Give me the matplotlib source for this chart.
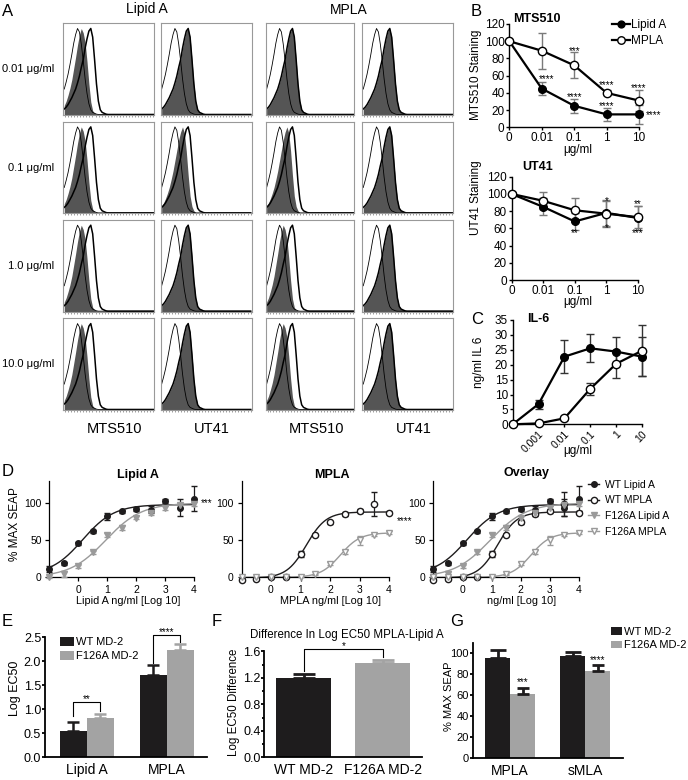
import numpy as np
import matplotlib
matplotlib.use('Agg')
import matplotlib.pyplot as plt

plt.rcParams['font.family'] = ['Liberation Sans', 'DejaVu Sans']

W, H = 688, 780

# ---------------- data ----------------
# A: flow histograms (normalised counts per bin, first bins only, rest ~0)
HIST_ISO = [0.30, 0.38, 0.47, 0.58, 0.70, 0.83, 0.93, 1.00, 0.96, 0.82, 0.63, 0.42,
            0.25, 0.13, 0.06, 0.03, 0.02, 0.01]
HIST_HIGH = [0.07, 0.09, 0.12, 0.16, 0.20, 0.25, 0.30, 0.37, 0.45, 0.55, 0.64, 0.77,
             0.88, 0.97, 1.00, 0.90, 0.64, 0.36, 0.16, 0.06, 0.03, 0.02, 0.01]
HIST_MID = [0.09, 0.12, 0.17, 0.23, 0.30, 0.39, 0.49, 0.61, 0.73, 0.85, 0.94, 1.00,
            0.93, 0.72, 0.44, 0.20, 0.08, 0.03, 0.01]
HIST_LOW = [0.11, 0.16, 0.23, 0.31, 0.41, 0.54, 0.67, 0.81, 0.93, 1.00, 0.95, 0.84,
            0.62, 0.36, 0.15, 0.05, 0.02, 0.01]
DOSE_ROWS = ['0.01 μg/ml', '0.1 μg/ml', '1.0 μg/ml', '10.0 μg/ml']
HIST_COLS = ['MTS510', 'UT41', 'MTS510', 'UT41']
# which stained histogram is filled, per row (dose) and column
FILL_SHAPE = [['low', 'high', 'high', 'high'],
              ['low', 'mid', 'mid', 'high'],
              ['low', 'high', 'low', 'high'],
              ['low', 'high', 'low', 'high']]

# B
DOSE_LABELS = ['0', '0.01', '0.1', '1', '10']
MTS_LIPA = [100, 45, 25, 15, 15]
MTS_LIPA_ERR = [0, 8, 8, 8, 11]
MTS_MPLA = [100, 89, 72, 40, 31]
MTS_MPLA_ERR = [0, 21, 15, 3, 12]
MTS_STARS = [(1.15, 56, '****'), (2, 35, '****'), (3, 25, '****'), (4.45, 14, '****'),
             (2, 88, '***'), (3, 49, '****'), (4, 46, '****')]
UT_LIPA = [100, 85, 68, 78, 72]
UT_LIPA_ERR = [0, 10, 10, 15, 14]
UT_MPLA = [100, 92, 81, 77, 73]
UT_MPLA_ERR = [0, 10, 14, 15, 13]
UT_STARS = [(2, 54, '**'), (3, 92, '*'), (3, 60, '*'), (4, 88, '**'), (4, 54, '***')]

# C
IL6_LABELS = ['0.001', '0.01', '0.1', '1', '10']
IL6_LIPA = [0, 6.8, 22.7, 25.5, 24.4, 22.7]
IL6_LIPA_ERR = [0, 1.5, 5.5, 4.7, 4.9, 6.5]
IL6_MPLA = [0, 0.3, 2.0, 11.9, 20.3, 24.7]
IL6_MPLA_ERR = [0, 0.3, 0.5, 2.1, 4.6, 8.5]

# D
LOGX = [-1, -0.5, 0, 0.5, 1, 1.5, 2, 2.5, 3, 3.5, 4]
WT_LIPA = [11, 19, 46, 62, 82, 89, 92, 91, 103, 94, 106]
WT_LIPA_ERR = [4, 2, 2, 2, 5, 2, 3, 5, 3, 12, 17]
F1_LIPA = [0, 5, 15, 34, 57, 67, 80, 86, 93, 97, 99]
F1_LIPA_ERR = [1, 4, 2, 2, 3, 3, 2, 2, 3, 3, 3]
WT_MPLA = [-3, -2, 1, 1, 32, 57, 74, 85, 89, 99, 87]
WT_MPLA_ERR = [2, 1, 1, 1, 4, 2, 2, 3, 3, 16, 2]
F1_MPLA = [0, 0, 0, 0, 1, 4, 18, 34, 50, 57, 60]
F1_MPLA_ERR = [1, 1, 1, 1, 1, 1, 2, 3, 6, 2, 2]
# 4-parameter fits: bottom, top, logEC50, hill
FIT_WT_LIPA = (3, 98, 0.15, 0.8)
FIT_F1_LIPA = (0, 100, 0.95, 0.7)
FIT_WT_MPLA = (-1, 88, 1.2, 1.3)
FIT_F1_MPLA = (0, 60, 2.35, 1.3)

# E
E_GROUPS = ['Lipid A', 'MPLA']
E_WT = [0.55, 1.70]
E_WT_ERR = [0.18, 0.22]
E_F1 = [0.82, 2.22]
E_F1_ERR = [0.08, 0.13]

# F
F_GROUPS = ['WT MD-2', 'F126A MD-2']
F_VALS = [1.20, 1.42]
F_ERR = [0.05, 0.05]

# G
G_GROUPS = ['MPLA', 'sMLA']
G_WT = [96, 97]
G_WT_ERR = [7, 4]
G_F1 = [61, 83]
G_F1_ERR = [6, 6]

BLACK = '#1e1c1d'
GREY = '#a3a3a3'
LGREY = '#9a9a9a'

fig = plt.figure(figsize=(W / 100, H / 100), dpi=100)


def pax(x0, y0, x1, y1):
    return fig.add_axes([x0 / W, 1 - y1 / H, (x1 - x0) / W, (y1 - y0) / H])


def ftext(x, y, s, **kw):
    kw.setdefault('ha', 'center')
    kw.setdefault('va', 'center')
    fig.text(x / W, 1 - y / H, s, **kw)


def open_axes(ax, lw=1.0, fs=8, length=2.5, pad=1.0):
    for s in ['top', 'right']:
        ax.spines[s].set_visible(False)
    for s in ['left', 'bottom']:
        ax.spines[s].set_linewidth(lw)
    ax.tick_params(direction='out', length=length, width=lw, pad=pad, labelsize=fs)


# ---------------- A ----------------
shapes = {'low': HIST_LOW, 'mid': HIST_MID, 'high': HIST_HIGH}
NB = 48
col_x = [(63.3, 154.3), (160.7, 251.7), (265.7, 354.3), (362.3, 453.3)]
row_y = [(23.3, 115), (121.7, 213.4), (220, 311.7), (318.4, 410)]


def padded(v):
    out = np.full(NB, 0.006)
    out[:len(v)] = v
    return out


bins = np.arange(NB) + 0.5
for r in range(4):
    for c in range(4):
        ax = pax(col_x[c][0], row_y[r][0], col_x[c][1], row_y[r][1])
        fill = padded(shapes[FILL_SHAPE[r][c]])
        ax.fill_between(bins, 0, fill, color='#555555', lw=0)
        ax.plot(bins, padded(HIST_HIGH), color='black', lw=1.1)
        ax.plot(bins, padded(HIST_ISO), color='black', lw=0.6)
        ax.set_xlim(0, NB)
        ax.set_ylim(0, 1.06)
        ax.set_yticks([])
        ax.set_xticks(np.arange(1, NB, 1.6))
        ax.set_xticklabels([])
        ax.tick_params(axis='x', length=1.5, width=0.5, color='#777777')
        for s in ax.spines.values():
            s.set_color('#999999')
            s.set_linewidth(0.8)
    ftext(54, (row_y[r][0] + row_y[r][1]) / 2, DOSE_ROWS[r], ha='right', fontsize=8)

ftext(147, 9.5, 'Lipid A', fontsize=10)
ftext(349, 9.5, 'MPLA', fontsize=10)
for c, name in enumerate(HIST_COLS):
    ftext((col_x[c][0] + col_x[c][1]) / 2 + 6, 429, name, fontsize=10.5)
ftext(2, 11, 'A', ha='left', fontsize=12)

# ---------------- B ----------------
xi = np.arange(5)


def dose_panel(ax, lipa, lipa_err, mpla, mpla_err, stars):
    ax.errorbar(xi, lipa, yerr=lipa_err, fmt='none', ecolor='#7a7a7a', elinewidth=1,
                capsize=3, clip_on=False, zorder=2)
    ax.errorbar(xi, mpla, yerr=mpla_err, fmt='none', ecolor='#7a7a7a', elinewidth=1,
                capsize=3, clip_on=False, zorder=2)
    ax.plot(xi, lipa, '-o', color='black', lw=1.6, ms=5.5, clip_on=False, zorder=3,
            label='Lipid A')
    ax.plot(xi, mpla, '-o', color='black', lw=1.6, ms=6, mfc='white', mew=1, clip_on=False,
            zorder=4, label='MPLA')
    for x, y, s in stars:
        ax.text(x, y, s, fontsize=7, ha='center', va='center', clip_on=False)
    ax.set_xlim(0, 4)
    ax.set_ylim(0, 120)
    ax.set_xticks(xi)
    ax.set_xticklabels(DOSE_LABELS)
    ax.set_yticks(range(0, 121, 20))
    open_axes(ax, 1.0, 8.5)


axb1 = pax(509.3, 24, 639, 127.3)
dose_panel(axb1, MTS_LIPA, MTS_LIPA_ERR, MTS_MPLA, MTS_MPLA_ERR, MTS_STARS)
axb1.legend(loc='upper left', bbox_to_anchor=(612 / W, 1 - 19 / H), bbox_transform=fig.transFigure,
            frameon=False, fontsize=8.5, handlelength=1.5, handletextpad=0.1, labelspacing=0.35,
            borderpad=0, borderaxespad=0, markerscale=0.9)
ftext(513, 19, 'MTS510', ha='left', fontsize=9, fontweight='bold')
ftext(476, 75, 'MTS510 Staining', rotation=90, fontsize=8.5)
ftext(578, 150, 'μg/ml', fontsize=8.5)
ftext(471, 11, 'B', ha='left', fontsize=12)

axb2 = pax(511.5, 176.7, 638, 280)
dose_panel(axb2, UT_LIPA, UT_LIPA_ERR, UT_MPLA, UT_MPLA_ERR, UT_STARS)
ftext(522, 167, 'UT41', ha='left', fontsize=9, fontweight='bold')
ftext(476, 198, 'UT41 Staining', rotation=90, fontsize=8.5)
ftext(578, 302, 'μg/ml', fontsize=8.5)

# ---------------- C ----------------
axc = pax(512.7, 320, 642, 424.3)
xc = np.arange(6)
axc.errorbar(xc, IL6_LIPA, yerr=IL6_LIPA_ERR, fmt='none', ecolor='#333333', elinewidth=1,
             capsize=3, clip_on=False, zorder=2)
axc.errorbar(xc, IL6_MPLA, yerr=IL6_MPLA_ERR, fmt='none', ecolor='#333333', elinewidth=1,
             capsize=3, clip_on=False, zorder=2)
axc.plot(xc, IL6_LIPA, '-o', color='black', lw=1.6, ms=5.5, clip_on=False, zorder=3)
axc.plot(xc, IL6_MPLA, '-o', color='black', lw=1.6, ms=6, mfc='white', mew=1,
         clip_on=False, zorder=4)
axc.set_xlim(0, 5)
axc.set_ylim(0, 35)
axc.set_yticks(range(0, 36, 5))
axc.set_xticks(xc[1:])
axc.set_xticklabels(IL6_LABELS, rotation=45, ha='right', rotation_mode='anchor')
open_axes(axc, 1.0, 8.5)
axc.tick_params(axis='x', labelsize=7.5)
ftext(527, 319, 'IL-6', ha='left', fontsize=9, fontweight='bold')
ftext(479, 362, 'ng/ml IL 6', rotation=90, fontsize=8.5)
ftext(578, 451, 'μg/ml', fontsize=8.5)
ftext(471, 319, 'C', ha='left', fontsize=12)

# ---------------- D ----------------
xs = np.linspace(-1, 4, 200)


def fit(p):
    b, t, ec, h = p
    return b + (t - b) / (1 + 10 ** ((ec - xs) * h))


def series(ax, y, err, p, color, marker, mfc, ms, label):
    ax.plot(xs, fit(p), color=color, lw=1.0, zorder=2)
    ax.errorbar(LOGX, y, yerr=err, fmt='none', ecolor=color, elinewidth=0.9, capsize=2,
                clip_on=False, zorder=3)
    ax.plot(LOGX, y, ls='none', marker=marker, color=color, mfc=mfc, mew=1, ms=ms,
            clip_on=False, zorder=4)
    # legend proxy: marker on a short line
    ax.plot([], [], '-', marker=marker, color=color, mfc=mfc, mew=1, ms=ms, lw=1, label=label)


def seap_axes(ax):
    ax.set_xlim(-1, 4)
    ax.set_ylim(0, 130)
    ax.set_xticks([0, 1, 2, 3, 4])
    ax.set_yticks([0, 50, 100])
    open_axes(ax, 0.9, 7.5, 3, 2.5)


d_axes = [pax(49.3, 480.8, 194, 577.3), pax(241.5, 480.8, 389, 577.3), pax(433.5, 480.8, 579, 577.3)]
axd1, axd2, axd3 = d_axes
series(axd1, WT_LIPA, WT_LIPA_ERR, FIT_WT_LIPA, BLACK, 'o', BLACK, 4, 'WT Lipid A')
series(axd1, F1_LIPA, F1_LIPA_ERR, FIT_F1_LIPA, LGREY, 'v', LGREY, 4, 'F126A Lipid A')
series(axd2, WT_MPLA, WT_MPLA_ERR, FIT_WT_MPLA, BLACK, 'o', 'white', 4.5, 'WT MPLA')
series(axd2, F1_MPLA, F1_MPLA_ERR, FIT_F1_MPLA, LGREY, 'v', 'white', 4.5, 'F126A MPLA')
series(axd3, WT_LIPA, WT_LIPA_ERR, FIT_WT_LIPA, BLACK, 'o', BLACK, 4, 'WT Lipid A')
series(axd3, WT_MPLA, WT_MPLA_ERR, FIT_WT_MPLA, BLACK, 'o', 'white', 4.5, 'WT MPLA')
series(axd3, F1_LIPA, F1_LIPA_ERR, FIT_F1_LIPA, LGREY, 'v', LGREY, 4, 'F126A Lipid A')
series(axd3, F1_MPLA, F1_MPLA_ERR, FIT_F1_MPLA, LGREY, 'v', 'white', 4.5, 'F126A MPLA')
for ax in d_axes:
    seap_axes(ax)
axd1.text(4.45, 100, '***', fontsize=7, ha='center', va='center', clip_on=False)
axd2.text(4.53, 76, '****', fontsize=7, ha='center', va='center', clip_on=False)
axd3.legend(loc='upper left', bbox_to_anchor=(588 / W, 1 - 479.5 / H), bbox_transform=fig.transFigure,
            frameon=False, fontsize=7.5, handlelength=1.1, handletextpad=0.5, labelspacing=0.55,
            borderpad=0, borderaxespad=0)
ftext(138, 475, 'Lipid A', fontsize=9, fontweight='bold')
ftext(332, 475, 'MPLA', fontsize=9, fontweight='bold')
ftext(527, 473, 'Overlay', fontsize=9, fontweight='bold')
ftext(128, 601, 'Lipid A ng/ml [Log 10]', fontsize=7.8)
ftext(330, 601, 'MPLA ng/ml [Log 10]', fontsize=7.8)
ftext(522, 601, 'ng/ml [Log 10]', fontsize=7.8)
ftext(15, 524, '% MAX SEAP', rotation=90, fontsize=8.5)
ftext(2, 471, 'D', ha='left', fontsize=12)


# ---------------- E / F / G ----------------
def bar_axes(ax, fs=9):
    open_axes(ax, 1.3, fs, 2, 0.8)
    ax.tick_params(axis='x', length=0, pad=4, labelsize=10)


def bracket(ax, x0, x1, top, l0, l1, s, dy):
    ax.plot([x0, x0, x1, x1], [l0, top, top, l1], color='black', lw=0.8, clip_on=False)
    ax.text((x0 + x1) / 2, top + dy, s, ha='center', va='center', fontsize=7)


axe = pax(45, 637, 207, 757.3)
ge = np.array([1.55, 4.5])
axe.bar(ge - 0.5, E_WT, width=1.0, color=BLACK, label='WT MD-2')
axe.bar(ge + 0.5, E_F1, width=1.0, color=GREY, label='F126A MD-2')
axe.errorbar(ge - 0.5, E_WT, yerr=[[0, 0], E_WT_ERR], fmt='none', ecolor=BLACK, elinewidth=1.8,
             capsize=4.5, capthick=1.8)
axe.errorbar(ge + 0.5, E_F1, yerr=[[0, 0], E_F1_ERR], fmt='none', ecolor=GREY, elinewidth=1.8,
             capsize=4.5, capthick=1.8)
axe.set_xlim(0, 6)
axe.set_ylim(0, 2.5)
axe.set_yticks(np.arange(0, 2.51, 0.5))
axe.set_yticklabels(['0.0', '0.5', '1.0', '1.5', '2.0', '2.5'])
axe.set_xticks(ge)
axe.set_xticklabels(E_GROUPS)
bar_axes(axe)
bracket(axe, ge[0] - 0.5, ge[0] + 0.5, 1.15, 0.85, 0.97, '**', 0.07)
bracket(axe, ge[1] - 0.5, ge[1] + 0.5, 2.54, 1.97, 2.40, '****', 0.07)
axe.legend(loc='upper left', bbox_to_anchor=(60 / W, 1 - 637 / H), bbox_transform=fig.transFigure,
           frameon=False, fontsize=8, handlelength=1.3, handleheight=0.8, handletextpad=0.15,
           labelspacing=0.35, borderpad=0, borderaxespad=0)
ftext(15, 688, 'Log EC50', rotation=90, fontsize=9)
ftext(2, 621, 'E', ha='left', fontsize=12)

axf = pax(264.3, 651.3, 421.7, 757.3)
gf = np.array([0.72, 2.15])
axf.bar(gf, F_VALS, width=1.0, color=[BLACK, GREY])
axf.errorbar(gf[0], F_VALS[0], yerr=[[0], [F_ERR[0]]], fmt='none', ecolor=BLACK, elinewidth=2,
             capsize=8, capthick=2)
axf.errorbar(gf[1], F_VALS[1], yerr=[[0], [F_ERR[1]]], fmt='none', ecolor=GREY, elinewidth=2,
             capsize=8, capthick=2)
axf.set_xlim(0, 2.86)
axf.set_ylim(0, 1.6)
axf.set_yticks([0, 0.4, 0.8, 1.2, 1.6])
axf.set_yticks(np.arange(0.2, 1.6, 0.4), minor=True)
axf.set_yticklabels(['0.0', '0.4', '0.8', '1.2', '1.6'])
axf.set_xticks(gf)
axf.set_xticklabels(F_GROUPS)
bar_axes(axf)
axf.tick_params(axis='y', which='minor', length=1.5, width=1.3)
bracket(axf, gf[0], gf[1], 1.63, 1.30, 1.52, '*', 0.05)
ftext(347, 635, 'Difference In Log EC50 MPLA-Lipid A', fontsize=8.3)
ftext(234, 702, 'Log EC50 Difference', rotation=90, fontsize=8.3)
ftext(217, 622, 'F', ha='center', fontsize=12)

axg = pax(472.7, 642.8, 622.7, 758.3)
gg = np.array([1.5, 4.5])
axg.bar(gg - 0.5, G_WT, width=1.0, color=BLACK, label='WT MD-2')
axg.bar(gg + 0.5, G_F1, width=1.0, color=GREY, label='F126A MD-2')
axg.errorbar(gg - 0.5, G_WT, yerr=[[0, 0], G_WT_ERR], fmt='none', ecolor=BLACK, elinewidth=2,
             capsize=6, capthick=2)
axg.errorbar(gg + 0.5, G_F1, yerr=[[0, 0], G_F1_ERR], fmt='none', ecolor=BLACK, elinewidth=2,
             capsize=4.5, capthick=2)
axg.text(gg[0] + 0.5, 73, '***', ha='center', va='center', fontsize=7)
axg.text(gg[1] + 0.5, 94, '****', ha='center', va='center', fontsize=7)
axg.set_xlim(0, 6)
axg.set_ylim(0, 110)
axg.set_yticks(range(0, 101, 20))
axg.set_xticks(gg)
axg.set_xticklabels(G_GROUPS)
bar_axes(axg, 8)
axg.legend(loc='upper left', bbox_to_anchor=(611 / W, 1 - 627 / H), bbox_transform=fig.transFigure,
           frameon=False, fontsize=8, handlelength=1.0, handleheight=0.7, handletextpad=0.15,
           labelspacing=0.3, borderpad=0, borderaxespad=0)
ftext(449, 696, '% MAX SEAP', rotation=90, fontsize=8)
ftext(450, 621, 'G', ha='left', fontsize=12)

fig.savefig('out.png', dpi=100)
